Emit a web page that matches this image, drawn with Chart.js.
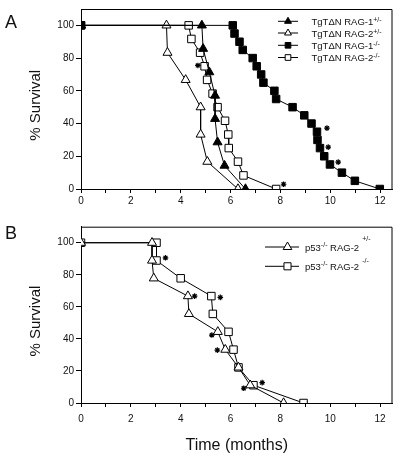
<!DOCTYPE html>
<html>
<head>
<meta charset="utf-8">
<script src="https://cdn.jsdelivr.net/npm/chart.js@4.4.0/dist/chart.umd.min.js"></script>
<style>
    html, body { margin: 0; padding: 0; background: #fff; }
    #wrap { position: relative; width: 400px; height: 457px; overflow: hidden; font-family: "Liberation Sans", Arial, sans-serif; }
    .box { position: absolute; left: 0; width: 400px; }
    .panel { position: absolute; left: 5px; font-size: 18px; line-height: 1; color: #111; }
</style>
</head>
<body>
<div id="wrap">
    <div class="box" style="top:0;height:215px"><canvas id="chartA"></canvas></div>
    <div class="box" style="top:215px;height:242px"><canvas id="chartB"></canvas></div>
    <div class="panel" style="top:13px">A</div>
    <div class="panel" style="top:224px">B</div>
</div>
<script>
const FONT = '"Liberation Sans", Arial, sans-serif';

// ==== A panel: TgTdN survival (months, % survival) ====
const rag1HetMonths = [0, 4.85, 4.9, 5.15, 5.38, 5.38, 5.48, 5.76, 6.6];
const rag1HetSurv = [100, 100, 85.7, 71.4, 57.1, 42.9, 28.6, 14.3, 0];

const rag2HetMonths = [0, 3.43, 3.47, 4.2, 4.8, 4.8, 5.07, 6.3];
const rag2HetSurv = [100, 100, 83.3, 66.7, 50, 33.3, 16.7, 0];

const rag1KoMonths = [0, 6.09, 6.16, 6.36, 6.49, 6.89, 7.05, 7.23, 7.32, 7.76, 7.83, 8.49,
    8.96, 9.25, 9.47, 9.49, 9.59, 9.76, 9.99, 10.47, 10.99, 11.99];
const rag1KoSurv = [100, 100, 95, 90, 85, 80, 75, 70, 65, 60, 55, 50,
    45, 40, 35, 30, 25, 20, 15, 10, 5, 0];

const rag2KoMonths = [0, 4.32, 4.43, 4.78, 4.96, 5.06, 5.28, 5.48, 5.78, 5.91, 5.93, 6.3, 6.52, 7.83];
const rag2KoSurv = [100, 100, 91.7, 83.3, 75, 66.7, 58.3, 50, 41.7, 33.3, 25, 16.7, 8.3, 0];

const starAMonths = [4.69, 8.13, 9.87, 9.92, 10.32];
const starASurv = [75.5, 2.9, 37.2, 25.6, 16.4];

// ==== B panel: p53-/- survival ====
const p53HetMonths = [0, 2.85, 2.85, 2.92, 4.29, 4.33, 5.49, 5.79, 6.32, 6.79, 8.13];
const p53HetSurv = [100, 100, 88.9, 77.8, 66.7, 55.6, 44.4, 33.3, 22.2, 11.1, 0];

const p53KoMonths = [0, 3.03, 3.03, 4.0, 5.23, 5.29, 5.92, 6.12, 6.32, 6.92, 8.93];
const p53KoSurv = [100, 100, 88.9, 77.8, 66.7, 55.6, 44.4, 33.3, 22.2, 11.1, 0];

const starBMonths = [3.39, 4.56, 5.59, 5.25, 5.47, 6.53, 7.27];
const starBSurv = [90.6, 66.7, 65.9, 42.4, 33, 9.2, 12.7];

const yTicks = [0, 20, 40, 60, 80, 100];

// ==== yordamchi funksiyalar ====
const toPoints = (xs, ys) => xs.map((x, i) => ({ x: x, y: ys[i] }));

const curve = (label, xs, ys, style, fill) => ({
    label: label,
    data: toPoints(xs, ys),
    showLine: true,
    tension: 0,
    borderColor: '#000',
    borderWidth: 1,
    backgroundColor: fill,
    pointStyle: style,
    pointRadius: style === 'rect' ? 5.3 : 5.2,
    pointBorderColor: '#000',
    pointBorderWidth: 1
});

const stars = (xs, ys) => ({
    label: 'censored',
    data: toPoints(xs, ys),
    showLine: false,
    pointStyle: 'star',
    pointRadius: 2.8,
    pointBorderColor: '#000',
    pointBorderWidth: 1.2
});

// ==== ramka (yuqori va o'ng chiziq) ====
const framePlugin = {
    id: 'frame',
    beforeDatasetsDraw(chart) {
        const a = chart.chartArea;
        const ctx = chart.ctx;
        ctx.save();
        ctx.strokeStyle = '#000';
        ctx.lineWidth = 1;
        ctx.beginPath();
        ctx.moveTo(a.left, a.top + 0.5);
        ctx.lineTo(a.right - 0.5, a.top + 0.5);
        ctx.lineTo(a.right - 0.5, a.bottom);
        ctx.stroke();
        ctx.restore();
    }
};

// ==== legenda (yuqori indeks bilan) ====
const keyPlugin = {
    id: 'key',
    afterDraw(chart, args, opts) {
        const ctx = chart.ctx;
        ctx.save();
        opts.items.forEach((it, i) => {
            const y = opts.rows[i];
            ctx.strokeStyle = '#000';
            ctx.lineWidth = 1;
            ctx.beginPath();
            ctx.moveTo(opts.x1, y);
            ctx.lineTo(opts.x2, y);
            ctx.stroke();
            ctx.fillStyle = it.fill;
            Chart.helpers.drawPoint(ctx, { pointStyle: it.style, radius: opts.radius, borderWidth: 1, rotation: 0 }, opts.xm, y);

            let tx = opts.textX;
            const base = y + 3.5;
            ctx.fillStyle = '#111';
            ctx.textBaseline = 'alphabetic';
            it.parts.forEach(p => {
                if (p.sup) {
                    tx += p.gap || 0;
                    ctx.font = opts.supSize + 'px ' + FONT;
                    ctx.fillText(p.t, tx, base - (p.raise || 4));
                } else {
                    ctx.font = opts.size + 'px ' + FONT;
                    ctx.fillText(p.t, tx, base);
                }
                tx += ctx.measureText(p.t).width;
            });
        });
        ctx.restore();
    }
};

const makeScales = (xHeight, tickPad, withTitle) => ({
    x: {
        type: 'linear',
        min: 0,
        max: 12.5,
        ticks: {
            stepSize: 1,
            includeBounds: false,
            autoSkip: false,
            maxRotation: 0,
            padding: tickPad,
            color: '#111',
            font: { size: 10, family: FONT },
            callback: v => (v % 2 === 0 ? v : '')
        },
        grid: { drawOnChartArea: false, drawTicks: true, tickLength: 4, color: '#000' },
        border: { color: '#000', width: 1 },
        title: {
            display: withTitle,
            text: 'Time (months)',
            color: '#111',
            font: { size: 16, family: FONT },
            padding: { top: 0, bottom: 2 }
        },
        afterFit: s => { s.height = xHeight; }
    },
    y: {
        min: 0,
        max: 110,
        afterBuildTicks: s => { s.ticks = yTicks.map(v => ({ value: v })); },
        ticks: {
            padding: 2,
            color: '#111',
            font: { size: 10, family: FONT }
        },
        grid: { drawOnChartArea: false, drawTicks: true, tickLength: 5, color: '#000' },
        border: { color: '#000', width: 1 },
        title: {
            display: true,
            text: '% Survival   ',
            color: '#111',
            font: { size: 15, family: FONT },
            padding: { top: 26.5, bottom: 0 }
        },
        afterFit: s => { s.width = 81; }
    }
});

const baseOptions = (padTop, xHeight, tickPad, withTitle, key) => ({
    responsive: true,
    maintainAspectRatio: false,
    animation: false,
    events: [],
    layout: { padding: { top: padTop, right: 7.5, left: 0, bottom: 0 } },
    scales: makeScales(xHeight, tickPad, withTitle),
    plugins: {
        legend: { display: false },
        tooltip: { enabled: false },
        key: key
    }
});

// ==== A diagramma ====
let chartA = new Chart(document.getElementById('chartA'), {
    type: 'scatter',
    data: {
        datasets: [
            stars(starAMonths, starASurv),
            curve('TgTdN RAG-1-/-', rag1KoMonths, rag1KoSurv, 'rect', '#000'),
            curve('TgTdN RAG-1+/-', rag1HetMonths, rag1HetSurv, 'triangle', '#000'),
            curve('TgTdN RAG-2-/-', rag2KoMonths, rag2KoSurv, 'rect', '#fff'),
            curve('TgTdN RAG-2+/-', rag2HetMonths, rag2HetSurv, 'triangle', '#fff')
        ]
    },
    options: baseOptions(9, 26, 2, false, {
        x1: 278, x2: 298, xm: 288, textX: 311.5, radius: 4, size: 9.5, supSize: 7,
        rows: [21.3, 33, 45.3, 57.5],
        items: [
            { style: 'triangle', fill: '#000', parts: [{ t: 'TgT\u0394N RAG-1' }, { t: '+/-', sup: true, raise: 3 }] },
            { style: 'triangle', fill: '#fff', parts: [{ t: 'TgT\u0394N RAG-2' }, { t: '+/-', sup: true, raise: 3 }] },
            { style: 'rect', fill: '#000', parts: [{ t: 'TgT\u0394N RAG-1' }, { t: '-/-', sup: true, raise: 3 }] },
            { style: 'rect', fill: '#fff', parts: [{ t: 'TgT\u0394N RAG-2' }, { t: '-/-', sup: true, raise: 3 }] }
        ]
    }),
    plugins: [framePlugin, keyPlugin]
});

// ==== B diagramma ====
let chartB = new Chart(document.getElementById('chartB'), {
    type: 'scatter',
    data: {
        datasets: [
            stars(starBMonths, starBSurv),
            curve('p53-/- RAG-2+/-', p53HetMonths, p53HetSurv, 'triangle', '#fff'),
            curve('p53-/- RAG-2-/-', p53KoMonths, p53KoSurv, 'rect', '#fff')
        ]
    },
    options: baseOptions(11.7, 54, 6, true, {
        x1: 265, x2: 299, xm: 287.5, textX: 305, radius: 5, size: 9.5, supSize: 7,
        rows: [32, 51.3],
        items: [
            { style: 'triangle', fill: '#fff', parts: [{ t: 'p53' }, { t: '-/-', sup: true, raise: 4 }, { t: ' RAG-2' }, { t: '+/-', sup: true, gap: 3, raise: 10 }] },
            { style: 'rect', fill: '#fff', parts: [{ t: 'p53' }, { t: '-/-', sup: true, raise: 4 }, { t: ' RAG-2' }, { t: '-/-', sup: true, gap: 3, raise: 7 }] }
        ]
    }),
    plugins: [framePlugin, keyPlugin]
});
</script>
</body>
</html>
